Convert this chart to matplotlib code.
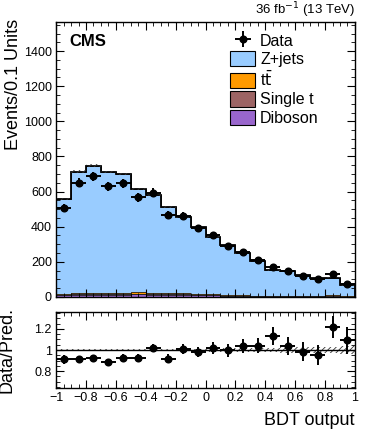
import numpy as np
import matplotlib
matplotlib.use("Agg")
import matplotlib.pyplot as plt
from matplotlib.ticker import MultipleLocator

plt.rcParams['font.family'] = ['Liberation Sans', 'DejaVu Sans']
plt.rcParams['hatch.linewidth'] = 0.6

edges = np.round(np.linspace(-1, 1, 21), 2)
centers = 0.5 * (edges[1:] + edges[:-1])

mc_total = [558, 714, 747, 712, 699, 613, 582, 510, 457, 400,
            343, 293, 248, 202, 152, 145, 122, 107, 109, 65]
diboson = [11, 13, 13, 12, 12, 15, 12, 12, 13, 10, 8, 6, 5, 3, 2, 2, 2, 2, 2, 1]
ttbar = [4, 6, 7, 6, 6, 7, 6, 6, 7, 5, 4, 3, 2, 2, 1, 1, 1, 1, 5, 1]
single_t = [2, 3, 4, 3, 3, 4, 3, 3, 4, 2, 2, 1, 1, 1, 1, 1, 1, 1, 3, 1]
data = [509, 650, 687, 629, 647, 567, 593, 469, 462, 392,
        350, 292, 258, 210, 172, 150, 120, 102, 133, 71]
mc_rel_unc = [0.010, 0.010, 0.010, 0.010, 0.010, 0.011, 0.012, 0.012, 0.013, 0.014,
              0.015, 0.016, 0.018, 0.020, 0.022, 0.024, 0.026, 0.028, 0.030, 0.035]

mc_total = np.array(mc_total, float)
data = np.array(data, float)
zjets = mc_total - np.array(diboson) - np.array(ttbar) - np.array(single_t)

fig = plt.figure(figsize=(3.74, 4.34), dpi=100)
ax = fig.add_axes([0.150, 0.316, 0.799, 0.633])
rx = fig.add_axes([0.150, 0.106, 0.799, 0.175])

# stacked backgrounds (bottom -> top)
stack = [(diboson, "#9966cc", "Diboson"),
         (single_t, "#9c6464", "Single t"),
         (ttbar, "#ff9a00", r"t$\bar{\rm t}$"),
         (zjets, "#99ccff", "Z+jets")]
base = np.zeros(20)
handles = {}
for vals, col, lab in stack:
    vals = np.asarray(vals, float)
    ax.stairs(base + vals, edges, baseline=base, fill=True, color=col,
              edgecolor="none")
    ax.stairs(base + vals, edges, baseline=None, color="#222222", lw=0.6)
    handles[lab] = plt.Rectangle((0, 0), 1, 1, facecolor=col, edgecolor="black", lw=0.8)
    base = base + vals
ax.stairs(mc_total, edges, color="black", lw=1.3)

# MC uncertainty band
unc = mc_total * np.array(mc_rel_unc)
ax.stairs(mc_total + unc, edges, baseline=mc_total - unc, fill=True,
          facecolor="none", edgecolor="#333333", hatch="//////", lw=0)

derr = np.sqrt(data)
hw = 0.05
d = ax.errorbar(centers, data, xerr=hw, yerr=derr, fmt="o", color="black",
                ms=4.8, lw=1.4, capsize=0)

ax.set_xlim(-1, 1)
ax.set_ylim(0, 1565)
ax.xaxis.set_major_locator(MultipleLocator(0.2))
ax.xaxis.set_minor_locator(MultipleLocator(0.05))
ax.set_xticklabels([])
ax.yaxis.set_major_locator(MultipleLocator(200))
ax.yaxis.set_minor_locator(MultipleLocator(50))
fig.text(0.037, 1 - 19 / 434, "Events/0.1 Units", rotation=90, fontsize=13,
         ha="center", va="top")

ax.text(0.045, 0.955, "CMS", transform=ax.transAxes, fontsize=12,
        fontweight="bold", va="top", ha="left")
ax.text(1.0, 1.006, r"36 fb$^{-1}$ (13 TeV)", transform=ax.transAxes,
        fontsize=9.5, va="bottom", ha="right")

ax.legend([d, handles["Z+jets"], handles[r"t$\bar{\rm t}$"],
           handles["Single t"], handles["Diboson"]],
          ["Data", "Z+jets", r"t$\bar{\rm t}$", "Single t", "Diboson"],
          loc="upper left", bbox_to_anchor=(0.56, 0.985), frameon=False,
          fontsize=11.5, handlelength=1.6, handleheight=1.1,
          labelspacing=0.15, handletextpad=0.3, borderaxespad=0)

# ratio panel
ratio = data / mc_total
rerr = derr / mc_total
ru = np.array(mc_rel_unc)
rx.stairs(1 + ru, edges, baseline=1 - ru, fill=True, facecolor="none",
          edgecolor="#333333", hatch="//////", lw=0)
rx.axhline(1, color="black", lw=1.0)
rx.errorbar(centers, ratio, xerr=hw, yerr=rerr, fmt="o", color="black",
            ms=4.8, lw=1.4, capsize=0)
rx.set_xlim(-1, 1)
rx.set_ylim(0.64, 1.36)
rx.yaxis.set_minor_locator(MultipleLocator(0.05))
rx.xaxis.set_minor_locator(MultipleLocator(0.05))
rx.set_yticks([0.8, 1.0, 1.2])
rx.set_yticklabels(["0.8", "1", "1.2"])
rx.set_xticks(np.round(np.arange(-1, 1.01, 0.2), 1))
rx.set_xticklabels(["\u22121", "\u22120.8", "\u22120.6", "\u22120.4", "\u22120.2",
                    "0", "0.2", "0.4", "0.6", "0.8", "1"])
rx.set_ylabel("Data/Pred.", fontsize=13)
rx.set_xlabel("BDT output", fontsize=13, loc="right", labelpad=6)

for a in (ax, rx):
    a.tick_params(which="both", direction="in", top=True, right=True,
                  labelsize=9, pad=3)
    a.tick_params(which="major", length=6)
    a.tick_params(which="minor", length=3)
    for s in a.spines.values():
        s.set_linewidth(1.0)

rx.yaxis.set_label_coords(-0.135, 0.5)

fig.savefig("out.png", dpi=100)
